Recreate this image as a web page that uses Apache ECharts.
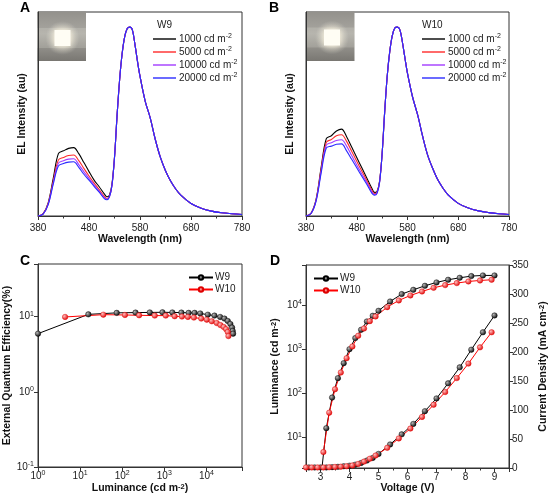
<!DOCTYPE html>
<html>
<head>
<meta charset="utf-8">
<script src="https://cdn.jsdelivr.net/npm/echarts@6/dist/echarts.min.js"></script>
<style>
  html, body { margin: 0; padding: 0; background: #fff; }
  #chart { width: 554px; height: 502px; }
</style>
</head>
<body>
<div id="chart"></div>
<script>
// EL spectra: blue band (380-525 nm) differs per luminance, main peak is shared
const bandWl = [380, 390, 400, 410, 420, 430, 440, 450, 460, 470, 480, 490, 500, 510, 515, 520, 525];
const w9_1000  = [0, 0.012, 0.07, 0.2, 0.33, 0.345, 0.358, 0.362, 0.33, 0.283, 0.235, 0.19, 0.155, 0.117, 0.102, 0.11, 0.168];
const w9_5000  = [0, 0.011, 0.066, 0.186, 0.297, 0.31, 0.32, 0.323, 0.293, 0.252, 0.212, 0.174, 0.14, 0.104, 0.093, 0.104, 0.163];
const w9_10000 = [0, 0.01, 0.063, 0.177, 0.28, 0.293, 0.301, 0.303, 0.272, 0.234, 0.199, 0.164, 0.132, 0.097, 0.089, 0.102, 0.161];
const w9_20000 = [0, 0.01, 0.06, 0.17, 0.265, 0.278, 0.285, 0.287, 0.257, 0.221, 0.19, 0.157, 0.126, 0.092, 0.086, 0.1, 0.16];

const w10_1000  = [0, 0.015, 0.09, 0.26, 0.41, 0.425, 0.45, 0.46, 0.42, 0.365, 0.31, 0.255, 0.2, 0.145, 0.125, 0.13, 0.185];
const w10_5000  = [0, 0.014, 0.087, 0.25, 0.39, 0.405, 0.425, 0.43, 0.395, 0.343, 0.29, 0.238, 0.187, 0.135, 0.118, 0.126, 0.182];
const w10_10000 = [0, 0.013, 0.083, 0.24, 0.375, 0.388, 0.4, 0.404, 0.37, 0.32, 0.27, 0.222, 0.176, 0.127, 0.113, 0.123, 0.18];
const w10_20000 = [0, 0.013, 0.08, 0.23, 0.36, 0.37, 0.38, 0.382, 0.345, 0.3, 0.255, 0.21, 0.167, 0.12, 0.11, 0.12, 0.178];

const peakWl = [530, 535, 540, 545, 550, 555, 560, 565, 570, 575, 580, 590, 600, 610, 620, 630, 640, 650, 660, 680, 700, 720, 740, 760, 780];
const peakW9  = [0.31, 0.53, 0.72, 0.86, 0.95, 0.993, 1.0, 0.985, 0.91, 0.82, 0.74, 0.61, 0.52, 0.405, 0.31, 0.24, 0.185, 0.143, 0.11, 0.066, 0.041, 0.026, 0.017, 0.012, 0.008];
const peakW10 = [0.33, 0.55, 0.74, 0.87, 0.955, 0.995, 1.0, 0.985, 0.92, 0.835, 0.755, 0.63, 0.535, 0.42, 0.32, 0.25, 0.19, 0.147, 0.112, 0.067, 0.042, 0.027, 0.018, 0.012, 0.008];

const levelNames = ['1000 cd m-2', '5000 cd m-2', '10000 cd m-2', '20000 cd m-2'];
const levelColors = ['#000000', '#ff2a2a', '#a23cff', '#2b2bff'];

// EQE vs luminance
const eqeW9L  = [1, 15.7, 74, 207, 452, 902, 1550, 2540, 3780, 5240, 7130, 10800, 15500, 21200, 26800, 32100, 37100, 40700, 42100, 43000];
const eqeW9   = [5.93, 10.7, 11.2, 11.3, 11.35, 11.4, 11.35, 11.3, 11.2, 11.2, 11.0, 10.6, 10.3, 9.88, 9.4, 8.74, 7.97, 7.13, 6.43, 5.93];
const eqeW10L = [4.4, 35.6, 116, 252, 593, 1080, 1760, 2620, 3630, 5040, 7530, 10200, 13400, 17600, 21500, 25800, 29400, 32100, 33300];
const eqeW10  = [9.88, 10.6, 10.5, 10.4, 10.3, 10.3, 10.1, 10.0, 9.9, 9.7, 9.4, 9.1, 8.66, 8.2, 7.7, 7.27, 6.8, 6.23, 5.5];

// J-V-L
const volW9  = [2.6, 2.8, 3.0, 3.2, 3.4, 3.6, 3.8, 4.0, 4.2, 4.4, 4.6, 4.8, 5.0, 5.4, 5.8, 6.2, 6.6, 7.0, 7.4, 7.8, 8.2, 8.6, 9.0];
const lumW9  = [null, null, 1, 16, 79, 218, 476, 990, 1760, 2720, 4200, 5640, 7330, 11900, 17500, 21900, 27000, 32200, 37000, 41000, 44800, 46400, 46400];
const jW9    = [1, 1, 1, 1, 1.5, 2, 3, 4, 5.8, 8.7, 12.8, 17.4, 24.3, 40.6, 58, 76, 98, 120, 146, 173.5, 204, 234, 263];
const volW10 = [2.5, 2.7, 2.9, 3.1, 3.3, 3.5, 3.7, 3.9, 4.1, 4.3, 4.5, 4.7, 4.9, 5.3, 5.7, 6.1, 6.5, 6.9, 7.3, 7.7, 8.1, 8.5, 8.9];
const lumW10 = [null, null, null, 4.6, 36, 122, 292, 618, 1140, 1990, 2910, 4270, 5450, 8870, 12600, 16300, 20100, 24300, 28000, 31100, 33900, 35700, 37000];
const jW10   = [1, 1, 1, 1, 1.3, 1.8, 2.3, 3, 4.5, 7, 11, 16, 21.5, 34.7, 51, 68, 88, 109, 131, 155, 180, 208, 234];

const myChart = echarts.init(document.getElementById('chart'), null, { renderer: 'canvas' });

const FONT = '"Liberation Sans", Arial, sans-serif';
const AXIS = '#333';
const supRich = { sup: { fontSize: 7, lineHeight: 8, verticalAlign: 'top', fontFamily: FONT, color: '#222' } };
const supRichBold = { sup: { fontSize: 7.5, lineHeight: 8, verticalAlign: 'top', fontWeight: 'bold', fontFamily: FONT, color: '#111' } };

function pairs(xs, ys) { return xs.map((x, i) => [x, ys[i]]); }

function logLabel(v) {
    const lg = Math.log10(v);
    const e = Math.round(lg);
    if (Math.abs(lg - e) > 0.01) return '';
    return '10{sup|' + e + '}';
}

const nameStyle = { fontSize: 10.5, fontWeight: 'bold', color: '#111', fontFamily: FONT, rich: supRichBold };
const labelStyle = { fontSize: 10, color: '#222', fontFamily: FONT };

function ballColor(light, dark) {
    return {
        type: 'radial', x: 0.35, y: 0.35, r: 0.7,
        colorStops: [{ offset: 0, color: light }, { offset: 1, color: dark }]
    };
}

function specSeries(idx, band, peak, color, name) {
    return {
        name: name, type: 'line', xAxisIndex: idx, yAxisIndex: idx,
        data: pairs(bandWl.concat(peakWl), band.concat(peak)),
        symbol: 'none', smooth: 0.35,
        lineStyle: { color: color, width: 1.1 },
        itemStyle: { color: color }
    };
}

function wlAxis(idx) {
    return {
        type: 'value', gridIndex: idx, min: 380, max: 780, interval: 100,
        name: 'Wavelength (nm)', nameLocation: 'middle', nameGap: 17, nameTextStyle: nameStyle,
        axisLine: { lineStyle: { color: AXIS } },
        axisTick: { length: 4, lineStyle: { color: AXIS } },
        minorTick: { show: true, splitNumber: 2, length: 2.5, lineStyle: { color: AXIS } },
        axisLabel: Object.assign({ margin: 7 }, labelStyle),
        splitLine: { show: false }
    };
}

function elAxis(idx) {
    return {
        type: 'value', gridIndex: idx, min: 0, max: 1.08,
        name: 'EL Intensity (au)', nameLocation: 'middle', nameGap: 10, nameTextStyle: nameStyle,
        axisLine: { lineStyle: { color: AXIS } },
        axisTick: { show: false }, axisLabel: { show: false }, splitLine: { show: false }
    };
}

// spectra legends: plain line icons
function specLegend(left, top) {
    return {
        left: left, top: top, orient: 'vertical', padding: 0,
        itemWidth: 23, itemHeight: 1.4, itemGap: 1,
        icon: 'rect',
        data: levelNames,
        formatter: n => n.replace('m-2', 'm{sup|-2}'),
        textStyle: { fontSize: 10, lineHeight: 12, color: '#222', fontFamily: FONT, padding: [0, 0, 0, -2], rich: supRich },
        selectedMode: false
    };
}

// EQE / JVL legends: line with ball symbol
function ballLegend(left, top) {
    return {
        left: left, top: top, orient: 'vertical', padding: 0,
        itemWidth: 24, itemHeight: 5.5, itemGap: 1,
        data: ['W9', 'W10'],
        textStyle: { fontSize: 10, lineHeight: 11, color: '#222', fontFamily: FONT, padding: [0, 0, 0, -3] },
        selectedMode: false
    };
}

function inset(x0, y0, cx, cy) {
    return [
        { type: 'rect', shape: { x: x0, y: y0, width: 48.5, height: 49.5 },
          style: { fill: { type: 'linear', x: 0, y: 0, x2: 0, y2: 1, colorStops: [
              { offset: 0, color: '#93918c' }, { offset: 0.45, color: '#a9a7a1' }, { offset: 1, color: '#797772' }] } } },
        { type: 'rect', shape: { x: x0, y: cy - 10, width: 48.5, height: 20 },
          style: { fill: 'rgba(255,252,240,0.16)' } },
        { type: 'circle', shape: { cx: cx, cy: cy, r: 17 },
          style: { fill: { type: 'radial', x: 0.5, y: 0.5, r: 0.5, colorStops: [
              { offset: 0, color: 'rgba(255,250,235,0.75)' }, { offset: 1, color: 'rgba(255,250,235,0)' }] } } },
        { type: 'rect', shape: { x: cx - 8, y: cy - 8, width: 16, height: 16 },
          style: { fill: '#fffdf4', shadowBlur: 6, shadowColor: 'rgba(255,248,225,0.95)' } }
    ];
}

function panelLetter(text, x, y) {
    return { type: 'text', x: x, y: y, style: { text: text, fontSize: 14, fontWeight: 'bold', fill: '#000', fontFamily: FONT, align: 'center', verticalAlign: 'middle' } };
}

function legendTitle(text, x, y) {
    return { type: 'text', x: x, y: y, style: { text: text, fontSize: 10, fill: '#222', fontFamily: FONT, verticalAlign: 'middle' } };
}

function ballSeries(name, xi, yi, xs, ys, dark) {
    const isBlack = dark === '#000';
    return {
        name: name, type: 'line', xAxisIndex: xi, yAxisIndex: yi,
        data: pairs(xs, ys), symbol: 'circle', symbolSize: 5.5,
        lineStyle: { color: isBlack ? '#000' : '#f00', width: 1 },
        itemStyle: {
            color: isBlack ? ballColor('#b8b8b8', '#000') : ballColor('#ffc0c0', '#e00000'),
            borderColor: isBlack ? '#000' : '#d00', borderWidth: 0.4
        }
    };
}

const option = {
    animation: false,
    backgroundColor: '#ffffff',
    textStyle: { fontFamily: FONT },
    grid: [
        { left: 38, top: 12, width: 204, height: 204, show: true, borderColor: AXIS, borderWidth: 1 },
        { left: 306, top: 12, width: 203, height: 204, show: true, borderColor: AXIS, borderWidth: 1 },
        { left: 38, top: 264, width: 204, height: 203, show: true, borderColor: AXIS, borderWidth: 1 },
        { left: 306, top: 265, width: 203, height: 203, show: true, borderColor: AXIS, borderWidth: 1 }
    ],
    xAxis: [
        wlAxis(0),
        wlAxis(1),
        {
            type: 'log', logBase: 10, gridIndex: 2, min: 1, max: 70000,
            name: 'Luminance (cd m{sup|-2})', nameLocation: 'middle', nameGap: 12, nameTextStyle: nameStyle,
            axisLine: { lineStyle: { color: AXIS } },
            axisTick: { length: 4, lineStyle: { color: AXIS } },
            axisLabel: Object.assign({ margin: 3, formatter: logLabel, rich: supRich, lineHeight: 12 }, labelStyle),
            splitLine: { show: false }
        },
        {
            type: 'value', gridIndex: 3, min: 2.5, max: 9.5, splitNumber: 7,
            name: 'Voltage (V)', nameLocation: 'middle', nameGap: 14, nameTextStyle: nameStyle,
            axisLine: { lineStyle: { color: AXIS } },
            axisTick: { length: 4, lineStyle: { color: AXIS } },
            minorTick: { show: true, splitNumber: 2, length: 2.5, lineStyle: { color: AXIS } },
            axisLabel: Object.assign({ margin: 4, formatter: v => (Math.abs(v - Math.round(v)) < 1e-6 ? String(Math.round(v)) : '') }, labelStyle),
            splitLine: { show: false }
        }
    ],
    yAxis: [
        elAxis(0),
        elAxis(1),
        {
            type: 'log', logBase: 10, gridIndex: 2, min: 0.1, max: 50,
            name: 'External Quantum Efficiency(%)', nameLocation: 'middle', nameGap: 25, nameTextStyle: nameStyle,
            axisLine: { lineStyle: { color: AXIS } },
            axisTick: { length: 4, lineStyle: { color: AXIS } },
            axisLabel: Object.assign({ margin: 4, formatter: logLabel, rich: supRich, lineHeight: 12 }, labelStyle),
            splitLine: { show: false }
        },
        {
            type: 'log', logBase: 10, gridIndex: 3, min: 2, max: 80000, position: 'left',
            name: 'Luminance (cd m{sup|-2})', nameLocation: 'middle', nameGap: 25, nameTextStyle: nameStyle,
            axisLine: { lineStyle: { color: AXIS } },
            axisTick: { length: 4, lineStyle: { color: AXIS } },
            axisLabel: Object.assign({ margin: 4, formatter: logLabel, rich: supRich, lineHeight: 12 }, labelStyle),
            splitLine: { show: false }
        },
        {
            type: 'value', gridIndex: 3, min: 0, max: 350, interval: 50, position: 'right',
            name: 'Current Density (mA cm{sup|-2})', nameLocation: 'middle', nameGap: 29, nameTextStyle: nameStyle,
            nameRotate: 90,
            axisLine: { show: true, lineStyle: { color: AXIS } },
            axisTick: { length: 4, lineStyle: { color: AXIS } },
            axisLabel: Object.assign({ margin: 3 }, labelStyle),
            splitLine: { show: false }
        }
    ],
    legend: [
        specLegend(153, 33),
        specLegend(422, 33),
        ballLegend(188, 272),
        ballLegend(313, 273)
    ],
    graphic: [
        ...inset(37.5, 11.5, 62.5, 38),
        ...inset(306, 11.5, 332, 37.5),
        panelLetter('A', 25, 8),
        panelLetter('B', 274, 8),
        panelLetter('C', 25, 261),
        panelLetter('D', 275, 261),
        legendTitle('W9', 157, 25),
        legendTitle('W10', 422, 25)
    ],
    series: [
        specSeries(0, w9_1000, peakW9, levelColors[0], levelNames[0]),
        specSeries(0, w9_5000, peakW9, levelColors[1], levelNames[1]),
        specSeries(0, w9_10000, peakW9, levelColors[2], levelNames[2]),
        specSeries(0, w9_20000, peakW9, levelColors[3], levelNames[3]),
        specSeries(1, w10_1000, peakW10, levelColors[0], levelNames[0]),
        specSeries(1, w10_5000, peakW10, levelColors[1], levelNames[1]),
        specSeries(1, w10_10000, peakW10, levelColors[2], levelNames[2]),
        specSeries(1, w10_20000, peakW10, levelColors[3], levelNames[3]),
        ballSeries('W9', 2, 2, eqeW9L, eqeW9, '#000'),
        ballSeries('W10', 2, 2, eqeW10L, eqeW10, '#e00000'),
        ballSeries('W9', 3, 3, volW9, lumW9, '#000'),
        ballSeries('W10', 3, 3, volW10, lumW10, '#e00000'),
        ballSeries('W9', 3, 4, volW9, jW9, '#000'),
        ballSeries('W10', 3, 4, volW10, jW10, '#e00000')
    ]
};

myChart.setOption(option);

window.addEventListener('resize', function () {
    myChart.resize();
});
</script>
</body>
</html>
